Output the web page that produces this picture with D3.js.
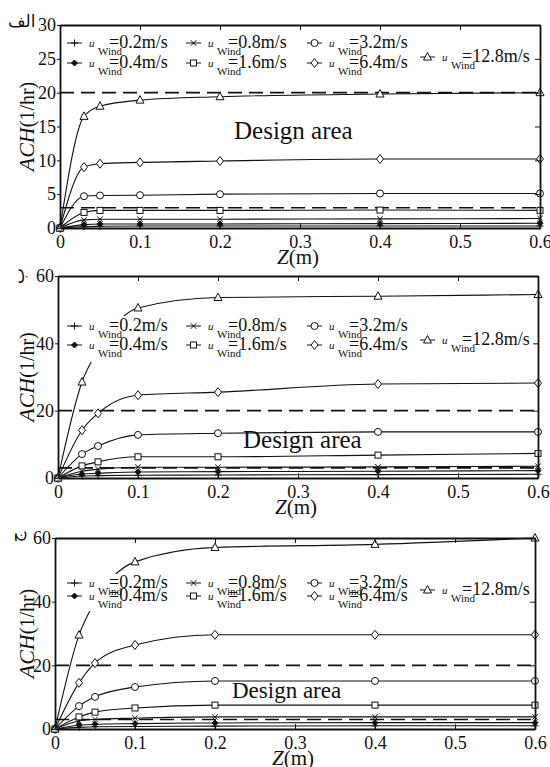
<!DOCTYPE html>
<html>
<head>
<meta charset="utf-8">
<script src="https://cdn.jsdelivr.net/npm/d3@7"></script>
<style>
body { margin: 0; background: #fff; }
svg { display: block; }
svg text { font-family: 'Liberation Serif', Tinos, 'Times New Roman', Times, 'DejaVu Serif', serif; fill: #111; }
</style>
</head>
<body>
<div id="chart-area"></div>
<script>
// heights above the vent (m)
const zValues = [0, 0.03, 0.05, 0.1, 0.2, 0.4, 0.6]
const windSpeeds = ['0.2', '0.4', '0.8', '1.6', '3.2', '6.4', '12.8']
const xTicks = [0, 0.1, 0.2, 0.3, 0.4, 0.5, 0.6]
const yTicksA = [0, 5, 10, 15, 20, 25, 30]
const yTicksBC = [0, 20, 40, 60]
const designLimits = [3, 20]
const panelLabels = ['الف', 'ب', 'ج']

// ACH (1/hr), one row per wind speed (same order as windSpeeds)
const achA = [
    [0, 0.2, 0.25, 0.3, 0.3, 0.3, 0.3],
    [0, 0.5, 0.6, 0.6, 0.6, 0.65, 0.7],
    [0, 1.2, 1.3, 1.3, 1.3, 1.35, 1.4],
    [0, 2.3, 2.6, 2.6, 2.6, 2.65, 2.6],
    [0, 4.7, 4.8, 4.85, 5.0, 5.1, 5.1],
    [0, 9.0, 9.5, 9.7, 9.9, 10.2, 10.2],
    [0, 16.5, 18.0, 18.9, 19.4, 19.8, 20.0]
]
const achB = [
    [0, 0.6, 0.7, 0.8, 0.9, 1.0, 1.1],
    [0, 1.2, 1.4, 1.8, 1.9, 2.0, 2.2],
    [0, 2.0, 2.6, 3.2, 3.2, 3.3, 3.5],
    [0, 3.6, 4.8, 6.3, 6.3, 6.8, 7.3],
    [0, 7.1, 9.5, 12.8, 13.3, 13.7, 13.7],
    [0, 14.2, 19.2, 24.6, 25.5, 27.9, 28.2],
    [0, 28.5, 38.0, 50.5, 53.6, 54.0, 54.5]
]
const achC = [
    [0, 0.5, 0.7, 0.8, 0.9, 1.0, 1.0],
    [0, 1.2, 1.5, 1.7, 1.9, 2.0, 2.0],
    [0, 2.5, 3.0, 3.4, 3.8, 3.8, 3.8],
    [0, 3.8, 5.3, 6.6, 7.5, 7.5, 7.5],
    [0, 7.2, 10.1, 13.2, 15.1, 15.1, 15.1],
    [0, 14.5, 20.7, 26.4, 29.6, 29.6, 29.6],
    [0, 29.5, 40.0, 52.5, 57.0, 58.0, 60.0]
]

const markerTypes = ['plus', 'dot', 'times', 'square', 'circle', 'diamond', 'triangle']
const serif = "'Liberation Serif', Tinos, 'Times New Roman', Times, 'DejaVu Serif', serif"

const svg = d3.select('#chart-area').append('svg')
    .attr('width', 550)
    .attr('height', 767)

const panels = [
    { ach: achA, yTicks: yTicksA, yMax: 30, left: 60, right: 540, top: 25, bottom: 228,
      rows: [48, 68], mid: 62, box: [31, 80], design: [234, 139, 25], label: [8, 27, false] },
    { ach: achB, yTicks: yTicksBC, yMax: 60, left: 58, right: 538, top: 276, bottom: 478,
      rows: [331, 350], mid: 345, box: [316, 362], design: [243, 448, 25], label: [24, 276, true] },
    { ach: achC, yTicks: yTicksBC, yMax: 60, left: 55, right: 535, top: 538, bottom: 729,
      rows: [588, 601], mid: 595, box: [574, 611], design: [232, 698, 23], label: [22, 537, true] }
]

function drawMarker(g, type, x, y) {
    const m = g.append('g').attr('transform', `translate(${x},${y})`)
        .attr('stroke', '#111').attr('stroke-width', 1).attr('fill', '#fff')
    if (type === 'plus') m.append('path').attr('d', 'M0,-3.5V3.5M-3.5,0H3.5')
    if (type === 'dot') m.append('path').attr('d', 'M0,-3L3,0L0,3L-3,0Z').attr('fill', '#111')
    if (type === 'times') m.append('path').attr('d', 'M-2.8,-2.8L2.8,2.8M-2.8,2.8L2.8,-2.8')
    if (type === 'square') m.append('rect').attr('x', -3).attr('y', -3).attr('width', 6).attr('height', 6)
    if (type === 'circle') m.append('circle').attr('r', 3.5)
    if (type === 'diamond') m.append('path').attr('d', 'M0,-4.5L3.5,0L0,4.5L-3.5,0Z')
    if (type === 'triangle') m.append('path').attr('d', 'M0,-4.5L4,3L-4,3Z')
}

panels.forEach((p, pi) => {
    const x = d3.scaleLinear().domain([0, 0.6]).range([p.left, p.right])
    const y = d3.scaleLinear().domain([0, p.yMax]).range([p.bottom, p.top])
    const g = svg.append('g')

    // design limits
    designLimits.forEach(v => {
        g.append('line')
            .attr('x1', x(0)).attr('x2', x(0.6))
            .attr('y1', y(v)).attr('y2', y(v))
            .attr('stroke', '#111').attr('stroke-width', 1.6)
            .attr('stroke-dasharray', '14,7')
    })

    const line = d3.line()
        .x((d, i) => x(zValues[i]))
        .y(d => y(d))
        .curve(d3.curveMonotoneX)

    p.ach.forEach((series, si) => {
        g.append('path')
            .attr('d', line(series))
            .attr('fill', 'none')
            .attr('stroke', '#111')
            .attr('stroke-width', 1.1)
        series.forEach((v, i) => drawMarker(g, markerTypes[si], x(zValues[i]), y(v)))
    })

    // legend on white background
    const lg = svg.append('g')
    lg.append('rect')
        .attr('x', p.left + 3).attr('y', p.box[0])
        .attr('width', p.right - p.left - 8).attr('height', p.box[1] - p.box[0])
        .attr('fill', '#fff')
    const cols = [67, 186, 307]
    windSpeeds.forEach((w, si) => {
        let sx, by
        if (si === 6) { sx = 420; by = p.mid }
        else { sx = cols[Math.floor(si / 2)]; by = p.rows[si % 2] }
        lg.append('line')
            .attr('x1', sx).attr('x2', sx + 15)
            .attr('y1', by - 5).attr('y2', by - 5)
            .attr('stroke', '#111').attr('stroke-width', 1)
        drawMarker(lg, markerTypes[si], sx + 7.5, by - 5)
        lg.append('text').attr('x', sx + 22).attr('y', by - 1)
            .attr('font-size', 11).attr('font-style', 'italic').text('u')
        lg.append('text').attr('x', sx + 31).attr('y', by + 7)
            .attr('font-size', 11).text('Wind')
        lg.append('text').attr('x', sx + 42).attr('y', by)
            .attr('font-size', 18).text(`=${w}m/s`)
    })

    // axes
    const xAxis = g.append('g')
        .attr('transform', `translate(0,${p.bottom})`)
        .call(d3.axisBottom(x).tickValues(xTicks).tickSizeInner(-5).tickSizeOuter(0).tickPadding(7)
            .tickFormat(d => d === 0 ? '0' : d3.format('.1f')(d)))
    const xTop = g.append('g')
        .attr('transform', `translate(0,${p.top})`)
        .call(d3.axisTop(x).tickValues(xTicks).tickSizeInner(-5).tickSizeOuter(0).tickFormat(''))
    const yAxis = g.append('g')
        .attr('transform', `translate(${p.left},0)`)
        .call(d3.axisLeft(y).tickValues(p.yTicks).tickSizeInner(3).tickSizeOuter(0).tickPadding(1))
    const yRight = g.append('g')
        .attr('transform', `translate(${p.right},0)`)
        .call(d3.axisRight(y).tickValues(p.yTicks).tickSizeInner(-5).tickSizeOuter(0).tickFormat(''))

    ;[xAxis, xTop, yAxis, yRight].forEach(a => {
        a.attr('font-family', serif)
        a.select('.domain').attr('stroke', '#111').attr('stroke-width', 1.8)
        a.selectAll('.tick line').attr('stroke', '#111')
        a.selectAll('.tick text')
            .style('font-family', serif)
            .attr('font-size', 18).attr('fill', '#111')
    })

    // axis titles
    const zt = g.append('text')
        .attr('x', (p.left + p.right) / 2 - 2).attr('y', p.bottom + 36)
        .attr('text-anchor', 'middle').attr('font-size', 21)
    zt.append('tspan').attr('font-style', 'italic').text('Z')
    zt.append('tspan').text('(m)')

    const yt = g.append('text')
        .attr('transform', `translate(34,${(p.top + p.bottom) / 2}) rotate(-90)`)
        .attr('text-anchor', 'middle').attr('font-size', 22)
    yt.append('tspan').attr('font-style', 'italic').text('ACH')
    yt.append('tspan').attr('font-size', 20).text('(1/hr)')

    g.append('text')
        .attr('x', p.design[0]).attr('y', p.design[1])
        .attr('font-size', p.design[2])
        .text('Design area')

    const lab = g.append('text')
        .style('font-family', "'DejaVu Sans', sans-serif")
        .attr('font-size', 17)
        .attr('text-anchor', p.label[2] ? 'middle' : 'start')
        .text(panelLabels[pi])
    if (p.label[2]) lab.attr('transform', `translate(${p.label[0]},${p.label[1]}) rotate(-90)`)
    else lab.attr('x', p.label[0]).attr('y', p.label[1])
})
</script>
</body>
</html>
